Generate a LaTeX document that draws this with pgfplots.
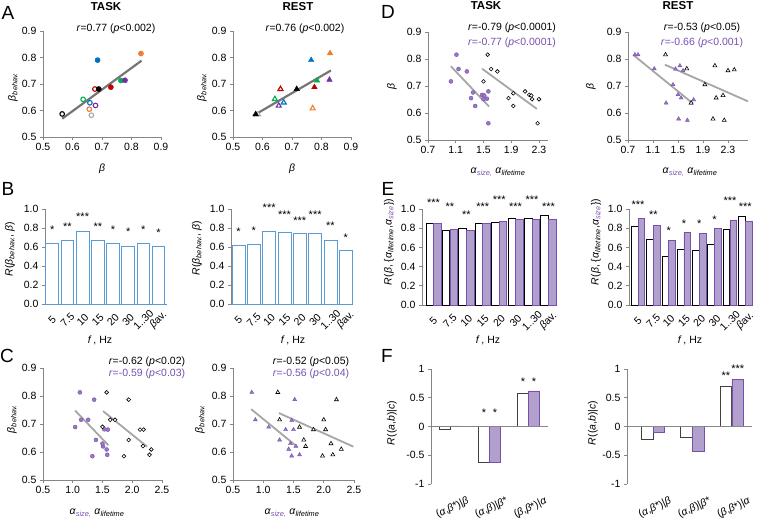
\documentclass[border=0pt]{standalone}
\usepackage{pgfplots}
\pgfplotsset{compat=1.18}
\usepackage{fontspec}
\setmainfont{Liberation Sans}
\definecolor{cblue}{RGB}{0,112,192}
\definecolor{corange}{RGB}{237,125,49}
\definecolor{cgreen}{RGB}{0,176,80}
\definecolor{cpurple}{RGB}{112,48,160}
\definecolor{cred}{RGB}{192,0,0}
\definecolor{cgray}{RGB}{170,170,170}
\definecolor{axgray}{RGB}{134,134,134}
\definecolor{lineg}{RGB}{118,118,118}
\definecolor{lineg2}{RGB}{166,166,166}
\definecolor{pfill}{RGB}{177,160,205}
\definecolor{pedge}{RGB}{120,80,170}
\definecolor{ptext}{RGB}{120,80,175}
\definecolor{pdot}{RGB}{150,120,195}
\definecolor{bblue}{RGB}{91,155,213}
\newcommand{\tf}{\fontsize{10.5}{12.5}\selectfont}
\newcommand{\bet}{\textit{β}}
\newcommand{\alp}{\textit{α}}
\newcommand{\sub}[1]{\textsubscript{\textit{#1}}}
\newcommand{\fpt}[3]{\addplot[only marks, mark=*, mark size=2.6pt, mark options={draw=#1, fill=#1}] coordinates {(#2,#3)};}
\newcommand{\opt}[3]{\addplot[only marks, mark=*, mark size=2.3pt, mark options={draw=#1, fill=white, line width=1.1pt}] coordinates {(#2,#3)};}
\newcommand{\ftr}[3]{\addplot[only marks, mark=triangle*, mark size=3.2pt, mark options={draw=#1, fill=#1}] coordinates {(#2,#3)};}
\newcommand{\otr}[3]{\addplot[only marks, mark=triangle*, mark size=2.9pt, mark options={draw=#1, fill=white, line width=1.1pt}] coordinates {(#2,#3)};}
\tikzset{st/.style={font=\fontsize{11}{11}\selectfont, inner sep=0pt, anchor=north}}
\pgfplotsset{
  base/.style={scale only axis, anchor=south west, axis lines=left,
    axis line style={-, draw=axgray, line width=0.8pt},
    tick style={draw=axgray, line width=0.8pt}, tick align=outside,
    major tick length=3pt, tick label style={font=\tf, text=black},
    /pgf/number format/assume math mode=true, clip=false},
  onedec/.style={/pgf/number format/.cd, fixed, fixed zerofill, precision=1},
  bars/.style={base, ymin=0, ymax=1, ytick={0,0.2,0.4,0.6,0.8,1.0}, onedec,
    xtick={0,...,7}, xticklabels={5,7.5,10,15,20,30,1..30,\bet av.},
    major x tick style={draw=none},
    xticklabel style={yshift=-13pt, rotate=45, anchor=center}},
  fax/.style={base, ymin=-1, ymax=1, ytick={-1,-0.5,0,0.5,1},
    x axis line style={draw=none}, major x tick style={draw=none},
    xtick={0,1,2}, xticklabels={(\alp,\bet*)|\bet,(\alp,\bet)|\bet*,(\bet,\bet*)|\alp},
    xticklabel style={yshift=-21pt, xshift=2pt, rotate=25, anchor=center}},
  pmk/.style={only marks, mark=*, mark size=2pt, mark options={draw=pedge, fill=pdot, line width=0.4pt}},
  bmk/.style={only marks, mark=*, mark size=1.9pt, mark options={draw=black, fill=white, line width=0.6pt}},
  ptr/.style={only marks, mark=triangle*, mark size=2.3pt, mark options={draw=pedge, fill=pdot, line width=0.4pt}},
  btr/.style={only marks, mark=triangle*, mark size=2.3pt, mark options={draw=black, fill=white, line width=0.6pt}},
  rl/.style={lineg2, line width=1.8pt},
}
\begin{document}
\begin{tikzpicture}
\path[use as bounding box] (0,0) rectangle (760pt,521pt);
% ---------- A TASK
\begin{axis}[base, at={(43pt,384pt)}, width=118pt, height=106pt, xmin=0.5, xmax=0.9, ymin=0.5, ymax=0.9,
  xtick={0.5,0.6,0.7,0.8,0.9}, ytick={0.5,0.6,0.7,0.8,0.9}, onedec]
\opt{black}{0.565}{0.587}
\fpt{cblue}{0.685}{0.790}
\fpt{corange}{0.832}{0.815}
\fpt{cgreen}{0.764}{0.713}
\fpt{cpurple}{0.778}{0.714}
\fpt{cred}{0.730}{0.688}
\opt{cred}{0.676}{0.681}
\fpt{black}{0.689}{0.681}
\opt{cgreen}{0.636}{0.642}
\opt{cblue}{0.659}{0.629}
\opt{cpurple}{0.678}{0.619}
\opt{corange}{0.657}{0.605}
\opt{cgray}{0.664}{0.582}
\addplot[lineg, line width=2.2pt] coordinates {(0.565,0.569) (0.834,0.788)};
\end{axis}
% ---------- A REST
\begin{axis}[base, at={(233pt,384pt)}, width=118pt, height=106pt, xmin=0.5, xmax=0.9, ymin=0.5, ymax=0.9,
  xtick={0.5,0.6,0.7,0.8,0.9}, ytick={0.5,0.6,0.7,0.8,0.9}, onedec]
\otr{cgray}{0.585}{0.585}
\ftr{black}{0.577}{0.586}
\ftr{cblue}{0.765}{0.790}
\ftr{corange}{0.829}{0.816}
\otr{corange}{0.770}{0.608}
\ftr{cgreen}{0.785}{0.713}
\ftr{cpurple}{0.827}{0.716}
\ftr{cred}{0.776}{0.688}
\ftr{black}{0.716}{0.681}
\otr{cred}{0.661}{0.681}
\otr{cgreen}{0.642}{0.643}
\otr{cblue}{0.672}{0.630}
\otr{cpurple}{0.655}{0.618}
\addplot[lineg, line width=2.2pt] coordinates {(0.568,0.580) (0.832,0.751)};
\end{axis}
% ---------- D TASK
\begin{axis}[base, at={(428pt,381pt)}, width=120pt, height=108pt, xmin=0.7, xmax=2.43, ymin=0.5, ymax=0.9,
  xtick={0.7,1.1,1.5,1.9,2.3}, ytick={0.5,0.6,0.7,0.8,0.9}, onedec]
\addplot[pmk] coordinates {(1.11,0.816) (1.14,0.763) (1.26,0.754) (1.03,0.717) (1.35,0.676) (1.32,0.655) (1.38,0.626) (1.48,0.667) (1.51,0.665) (1.50,0.651) (1.55,0.653) (1.57,0.680) (1.57,0.562)};
\addplot[bmk] coordinates {(1.56,0.816) (1.61,0.763) (1.70,0.754) (1.50,0.717) (1.93,0.673) (1.86,0.655) (1.93,0.626) (2.10,0.680) (2.16,0.667) (2.19,0.665) (2.20,0.651) (2.30,0.651) (2.28,0.562)};
\addplot[rl] coordinates {(1.03,0.773) (1.58,0.624)};
\addplot[rl] coordinates {(1.48,0.764) (2.27,0.615)};
\end{axis}
% ---------- D REST
\begin{axis}[base, at={(628pt,381pt)}, width=120pt, height=108pt, xmin=0.7, xmax=2.62, ymin=0.5, ymax=0.9,
  xtick={0.7,1.1,1.5,1.9,2.3}, ytick={0.5,0.6,0.7,0.8,0.9}, onedec]
\addplot[ptr] coordinates {(0.81,0.816) (0.86,0.816) (1.12,0.764) (1.42,0.705) (1.46,0.763) (1.53,0.775) (1.58,0.757) (1.50,0.668) (1.55,0.656) (1.31,0.637) (1.51,0.578) (1.65,0.573) (1.75,0.649) (1.71,0.637)};
\addplot[btr] coordinates {(1.30,0.816) (1.64,0.764) (1.93,0.705) (2.09,0.775) (2.30,0.757) (2.40,0.760) (2.11,0.656) (2.22,0.665) (2.06,0.578) (2.24,0.573) (1.71,0.637)};
\addplot[rl] coordinates {(0.80,0.812) (1.74,0.635)};
\addplot[rl] coordinates {(1.29,0.779) (2.62,0.643)};
\end{axis}
% ---------- B TASK
\begin{axis}[bars, at={(45pt,217pt)}, width=122pt, height=95pt, xmin=-0.48, xmax=7.56]
\addplot[ybar, bar width=12.7pt, bar shift=0pt, draw=bblue, fill=white, line width=0.9pt] coordinates {(0,0.642) (1,0.67) (2,0.768) (3,0.67) (4,0.639) (5,0.61) (6,0.64) (7,0.603)};
\node[st] at (axis cs:0,0.82) {*};
\node[st] at (axis cs:1,0.855) {**};
\node[st] at (axis cs:2,0.96) {***};
\node[st] at (axis cs:3,0.86) {**};
\node[st] at (axis cs:4,0.82) {*};
\node[st] at (axis cs:5,0.80) {*};
\node[st] at (axis cs:6,0.82) {*};
\node[st] at (axis cs:7,0.79) {*};
\end{axis}
% ---------- B REST
\begin{axis}[bars, at={(231pt,217pt)}, width=122pt, height=95pt, xmin=-0.49, xmax=7.47]
\addplot[ybar, bar width=13pt, bar shift=0pt, draw=bblue, fill=white, line width=0.9pt] coordinates {(0,0.614) (1,0.632) (2,0.768) (3,0.758) (4,0.740) (5,0.747) (6,0.670) (7,0.561)};
\node[st] at (axis cs:0,0.80) {*};
\node[st] at (axis cs:1,0.815) {*};
\node[st] at (axis cs:2,1.055) {***};
\node[st] at (axis cs:3,0.985) {***};
\node[st] at (axis cs:4,0.92) {***};
\node[st] at (axis cs:5,0.985) {***};
\node[st] at (axis cs:6,0.87) {**};
\node[st] at (axis cs:7,0.74) {*};
\end{axis}
% ---------- E TASK
\begin{axis}[bars, at={(422pt,216pt)}, width=133pt, height=96pt, xmin=-0.7, xmax=7.4]
\addplot[ybar, bar width=7.5pt, bar shift=-3.75pt, draw=black, fill=white, line width=0.9pt] coordinates {(0,0.85) (1,0.773) (2,0.794) (3,0.847) (4,0.864) (5,0.902) (6,0.902) (7,0.934)};
\addplot[ybar, bar width=7.5pt, bar shift=3.75pt, draw=pedge, fill=pfill, line width=0.6pt] coordinates {(0,0.85) (1,0.784) (2,0.773) (3,0.847) (4,0.871) (5,0.895) (6,0.895) (7,0.895)};
\node[st] at (axis cs:0,1.11) {***};
\node[st] at (axis cs:1,1.065) {**};
\node[st] at (axis cs:2,0.98) {**};
\node[st] at (axis cs:3,1.065) {***};
\node[st] at (axis cs:4,1.135) {***};
\node[st] at (axis cs:5,1.065) {***};
\node[st] at (axis cs:6,1.135) {***};
\node[st] at (axis cs:7,1.07) {***};
\end{axis}
% ---------- E REST
\begin{axis}[bars, at={(629pt,216pt)}, width=123pt, height=96pt, xmin=-0.59, xmax=7.44]
\addplot[ybar, bar width=6.7pt, bar shift=-3.35pt, draw=black, fill=white, line width=0.9pt] coordinates {(0,0.819) (1,0.68) (2,0.51) (3,0.575) (4,0.568) (5,0.634) (6,0.784) (7,0.923)};
\addplot[ybar, bar width=6.7pt, bar shift=3.35pt, draw=pedge, fill=pfill, line width=0.6pt] coordinates {(0,0.906) (1,0.83) (2,0.672) (3,0.76) (4,0.749) (5,0.80) (6,0.88) (7,0.87)};
\node[st] at (axis cs:0,1.09) {***};
\node[st] at (axis cs:1,0.985) {**};
\node[st] at (axis cs:2,0.82) {*};
\node[st] at (axis cs:3,0.89) {*};
\node[st] at (axis cs:4,0.89) {*};
\node[st] at (axis cs:5,0.925) {*};
\node[st] at (axis cs:6,1.125) {***};
\node[st] at (axis cs:7,1.065) {***};
\end{axis}
% ---------- C TASK
\begin{axis}[base, at={(43pt,41pt)}, width=119pt, height=112pt, xmin=0.5, xmax=2.5, ymin=0.5, ymax=0.9,
  xtick={0.5,1.0,1.5,2.0,2.5}, ytick={0.5,0.6,0.7,0.8,0.9}, onedec]
\addplot[pmk] coordinates {(1.12,0.813) (1.36,0.787) (1.14,0.715) (1.26,0.715) (1.04,0.689) (1.39,0.643) (1.51,0.620) (1.50,0.630) (1.53,0.681) (1.59,0.680) (1.57,0.609) (1.58,0.590) (1.33,0.585)};
\addplot[bmk] coordinates {(1.57,0.813) (1.94,0.787) (1.50,0.690) (1.63,0.715) (1.71,0.715) (1.94,0.643) (2.13,0.680) (2.19,0.680) (2.18,0.621) (2.32,0.609) (2.29,0.590) (1.86,0.585)};
\addplot[rl] coordinates {(1.04,0.748) (1.60,0.624)};
\addplot[rl] coordinates {(1.51,0.746) (2.25,0.619)};
\end{axis}
% ---------- C REST
\begin{axis}[base, at={(233pt,41pt)}, width=121pt, height=112pt, xmin=0.5, xmax=2.5, ymin=0.5, ymax=0.9,
  xtick={0.5,1.0,1.5,2.0,2.5}, ytick={0.5,0.6,0.7,0.8,0.9}, onedec]
\addplot[ptr] coordinates {(0.81,0.813) (1.52,0.787) (0.87,0.715) (1.09,0.689) (1.27,0.643) (1.37,0.680) (1.47,0.713) (1.50,0.680) (1.45,0.630) (1.42,0.610) (1.47,0.586) (1.60,0.590) (1.54,0.620)};
\addplot[btr] coordinates {(1.24,0.813) (2.21,0.787) (1.27,0.715) (1.60,0.689) (1.67,0.643) (2.00,0.715) (2.03,0.680) (1.83,0.680) (2.12,0.630) (2.29,0.610) (1.98,0.586) (2.15,0.590) (1.70,0.620)};
\addplot[rl] coordinates {(0.80,0.753) (1.56,0.619)};
\addplot[rl] coordinates {(1.26,0.739) (2.49,0.619)};
\end{axis}
% ---------- F TASK
\begin{axis}[fax, at={(431pt,37pt)}, width=117pt, height=115pt, xmin=-0.5, xmax=2.5]
\addplot[ybar, bar width=11pt, bar shift=-5.5pt, draw=black!75, fill=white, line width=0.9pt] coordinates {(0,-0.047) (1,-0.62) (2,0.58)};
\addplot[ybar, bar width=11pt, bar shift=5.5pt, draw=pedge, fill=pfill, line width=0.6pt] coordinates {(0,0.012) (1,-0.62) (2,0.62)};
\addplot[axgray, line width=0.8pt] coordinates {(-0.5,0) (2.5,0)};
\node[st] at (axis cs:0.86,0.31) {*};
\node[st] at (axis cs:1.14,0.31) {*};
\node[st] at (axis cs:1.86,0.84) {*};
\node[st] at (axis cs:2.14,0.84) {*};
\end{axis}
% ---------- F REST
\begin{axis}[fax, at={(627pt,37pt)}, width=125pt, height=115pt, xmin=-0.66, xmax=2.51]
\addplot[ybar, bar width=11.7pt, bar shift=-5.85pt, draw=black!75, fill=white, line width=0.9pt] coordinates {(0,-0.233) (1,-0.19) (2,0.70)};
\addplot[ybar, bar width=11.7pt, bar shift=5.85pt, draw=pedge, fill=pfill, line width=0.6pt] coordinates {(0,-0.105) (1,-0.436) (2,0.826)};
\addplot[axgray, line width=0.8pt] coordinates {(-0.66,0) (2.51,0)};
\node[st] at (axis cs:1.85,0.96) {**};
\node[st] at (axis cs:2.15,1.08) {***};
\end{axis}
% ---------- texts
\begin{scope}[every node/.style={font=\tf}]
\node[font=\fontsize{19}{20}\selectfont] at (8pt,508.5pt) {A};
\node[font=\fontsize{19}{20}\selectfont] at (8pt,332pt) {B};
\node[font=\fontsize{19}{20}\selectfont] at (7pt,165pt) {C};
\node[font=\fontsize{19}{20}\selectfont] at (388pt,509pt) {D};
\node[font=\fontsize{19}{20}\selectfont] at (388pt,332pt) {E};
\node[font=\fontsize{19}{20}\selectfont] at (387pt,165pt) {F};
\node[font=\bfseries\fontsize{11.5}{13}\selectfont] at (106pt,514pt) {TASK};
\node[font=\bfseries\fontsize{11.5}{13}\selectfont] at (298pt,514pt) {REST};
\node[font=\bfseries\fontsize{11.5}{13}\selectfont] at (486pt,515pt) {TASK};
\node[font=\bfseries\fontsize{11.5}{13}\selectfont] at (678pt,515pt) {REST};
\node at (116pt,492pt) {\textit{r}=0.77 (\textit{p}<0.002)};
\node at (305pt,492pt) {\textit{r}=0.76 (\textit{p}<0.002)};
\node at (512pt,493pt) {\textit{r}=-0.79 (\textit{p}<0.0001)};
\node[text=ptext] at (512pt,478pt) {\textit{r}=-0.77 (\textit{p}<0.0001)};
\node at (702pt,493pt) {\textit{r}=-0.53 (\textit{p}<0.05)};
\node[text=ptext] at (702pt,478pt) {\textit{r}=-0.66 (\textit{p}<0.001)};
\node at (147pt,159pt) {\textit{r}=-0.62 (\textit{p}<0.02)};
\node[text=ptext] at (147pt,147pt) {\textit{r}=-0.59 (\textit{p}<0.03)};
\node at (311pt,159pt) {\textit{r}=-0.52 (\textit{p}<0.05)};
\node[text=ptext] at (311pt,147pt) {\textit{r}=-0.56 (\textit{p}<0.04)};
% x labels
\node at (102pt,352pt) {\bet};
\node at (292pt,352pt) {\bet};
\node at (100pt,181pt) {\textit{f}\,, Hz};
\node at (293pt,181pt) {\textit{f}\,, Hz};
\node at (488pt,181pt) {\textit{f}\,, Hz};
\node at (690pt,181pt) {\textit{f}\,, Hz};
\node at (97pt,8pt) {\alp\sub{\textcolor{ptext}{size,}} \alp\sub{lifetime}};
\node at (292pt,8pt) {\alp\sub{\textcolor{ptext}{size,}} \alp\sub{lifetime}};
\node at (498pt,349pt) {\alp\sub{\textcolor{ptext}{size,}} \alp\sub{lifetime}};
\node at (690pt,349pt) {\alp\sub{\textcolor{ptext}{size,}} \alp\sub{lifetime}};
% y labels
\node[rotate=90] at (13pt,434pt) {\bet\sub{behav.}};
\node[rotate=90] at (202pt,434pt) {\bet\sub{behav.}};
\node[rotate=90] at (10pt,272pt) {\textit{R}(\bet\sub{behav.}, \bet)};
\node[rotate=90] at (197pt,273pt) {\textit{R}(\bet\sub{behav.}, \bet)};
\node[rotate=90] at (12pt,102pt) {\bet\sub{behav.}};
\node[rotate=90] at (200pt,102pt) {\bet\sub{behav.}};
\node[rotate=90] at (392pt,434pt) {\bet};
\node[rotate=90] at (591pt,434pt) {\bet};
\node[rotate=90] at (389pt,279pt) {\textit{R}(\bet, \{\alp\sub{lifetime},\alp\sub{\textcolor{ptext}{size}}\})};
\node[rotate=90] at (596pt,279pt) {\textit{R}(\bet, \{\alp\sub{lifetime},\alp\sub{\textcolor{ptext}{size}}\})};
\node[rotate=90] at (392pt,98pt) {\textit{R}((\textit{a},\textit{b})|\textit{c})};
\node[rotate=90] at (593pt,98pt) {\textit{R}((\textit{a},\textit{b})|\textit{c})};
\end{scope}
\end{tikzpicture}
\end{document}
